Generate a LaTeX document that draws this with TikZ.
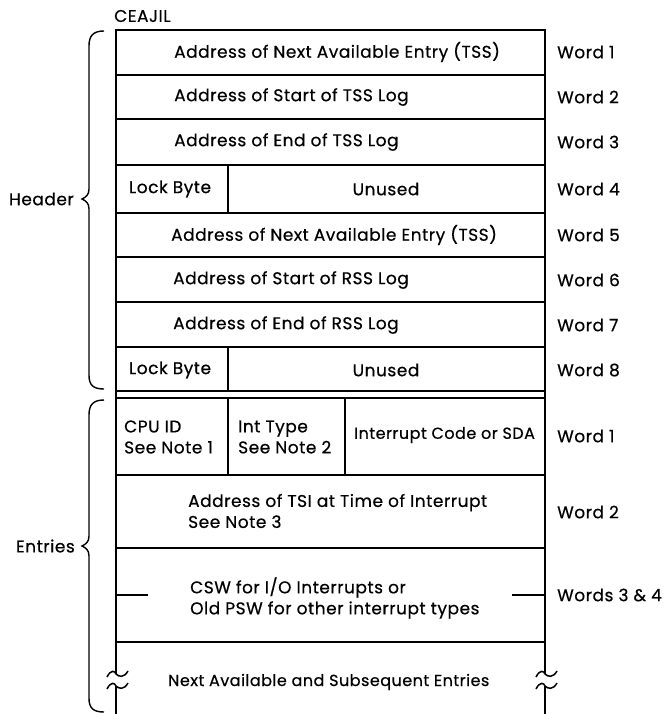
\documentclass[tikz,border=0pt]{standalone}
\usepackage{fontspec}
\setmainfont{Poppins}[LetterSpace=3,FakeBold=0.5]
\begin{document}
\begin{tikzpicture}[x=1pt,y=-1pt,
  box/.style={line width=1.5pt},
  txt/.style={inner sep=0pt,font=\fontsize{17}{21}\selectfont},
  sm/.style={font=\fontsize{16}{21}\selectfont},
  lt/.style={txt,anchor=west},
  two/.style={txt,anchor=west,align=left},
  brace/.style={line width=1.4pt}]
\useasboundingbox (0,0) rectangle (670,714);
% outer frame
\coordinate (tl) at (116,30);
\coordinate (tr) at (545,30);
\coordinate (bl) at (116,674);
\coordinate (br) at (545,674);
\draw[box] (bl) -- (tl) -- (tr) -- (br);
% rows
\foreach \y in {75,119,165,213,257,302,347,391,398,475,548,642}
  \draw[box] (116,\y) -- (545,\y);
\draw[box] (228,165) -- (228,213);
\draw[box] (228,347) -- (228,391);
\draw[box] (228,398) -- (228,475);
\draw[box] (345,398) -- (345,475);
% ticks in CSW row
\draw[box] (116,595) -- (148,595);
\draw[box] (512,595) -- (545,595);
% break marks
\coordinate (lb) at (116,686);
\coordinate (rb) at (545,686);
\draw[box] (107,677) .. controls (111,669) and (115,671) .. (bl) .. controls (119,677) and (124,678) .. (128,671);
\draw[box] (107,689) .. controls (111,681) and (115,683) .. (lb) .. controls (119,689) and (124,690) .. (128,683);
\draw[box] (lb) -- (116,714);
\draw[box] (536,677) .. controls (540,669) and (544,671) .. (br) .. controls (548,677) and (553,678) .. (557,671);
\draw[box] (536,689) .. controls (540,681) and (544,683) .. (rb) .. controls (548,689) and (553,690) .. (557,683);
\draw[box] (rb) -- (545,714);
% texts
\node[txt,anchor=west] (ceajil) at (114,16) {CEAJIL};
\node[lt] (h1) at (174,52) {Address of Next Available Entry (TSS)};
\node[lt] (h2) at (174,97) {Address of Start of TSS Log};
\node[lt] (h3) at (174,142) {Address of End of TSS Log};
\node[txt] (h4a) at (170,189) {Lock Byte};
\node[txt] (h4b) at (386,189) {Unused};
\node[lt] (h5) at (171,235) {Address of Next Available Entry (TSS)};
\node[lt] (h6) at (173,280) {Address of Start of RSS Log};
\node[lt] (h7) at (173,325) {Address of End of RSS Log};
\node[txt] (h8a) at (170,370) {Lock Byte};
\node[txt] (h8b) at (386,370) {Unused};
\node[two] (e1a) at (124,437) {CPU ID\\See Note 1};
\node[two] (e1b) at (238,437) {Int Type\\See Note 2};
\node[lt,sm] (e1c) at (354,435) {Interrupt Code or SDA};
\node[two] (e2) at (188,511) {Address of TSI at Time of Interrupt\\See Note 3};
\node[two] (e3) at (190,598) {CSW for I/O Interrupts or\\Old PSW for other interrupt types};
\node[lt,sm] (e4) at (168,682) {Next Available and Subsequent Entries};
% word labels
\node[lt] (w1) at (557,52) {Word 1};
\node[lt] (w2) at (557,97) {Word 2};
\node[lt] (w3) at (557,142) {Word 3};
\node[lt] (w4) at (557,189) {Word 4};
\node[lt] (w5) at (557,235) {Word 5};
\node[lt] (w6) at (557,280) {Word 6};
\node[lt] (w7) at (557,325) {Word 7};
\node[lt] (w8) at (557,370) {Word 8};
\node[lt] (we1) at (557,436) {Word 1};
\node[lt] (we2) at (557,512) {Word 2};
\node[lt] (we3) at (557,595) {Words 3 \& 4};
% braces
\node[txt,anchor=east] (hdr) at (74,199) {Header};
\node[txt,anchor=east] (ent) at (75,546) {Entries};
\draw[brace] (104,31) .. controls (93,31) and (89,36) .. (89,46) -- (89,189)
  .. controls (89,195) and (86,197) .. (82,199) .. controls (86,201) and (89,203) .. (89,209)
  -- (89,375) .. controls (89,385) and (93,389) .. (104,389);
\draw[brace] (104,400) .. controls (93,400) and (89,405) .. (89,415) -- (89,536)
  .. controls (89,542) and (86,544) .. (82,546) .. controls (86,548) and (89,550) .. (89,556)
  -- (89,698) .. controls (89,708) and (93,712) .. (104,712);
\end{tikzpicture}
\end{document}
